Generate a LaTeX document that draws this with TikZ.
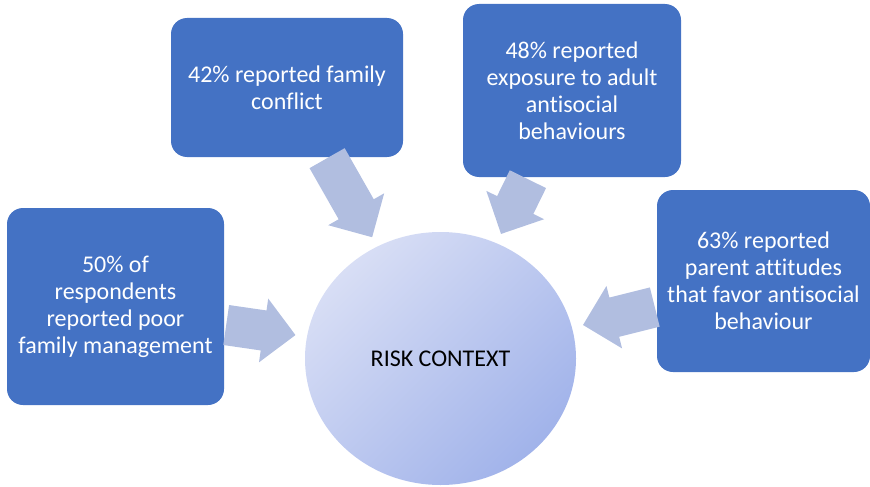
\documentclass[tikz,border=0pt]{standalone}
\usepackage{fontspec}
\setmainfont{Carlito}[Ligatures=NoCommon]
\usetikzlibrary{shapes.geometric,shapes.arrows}
\definecolor{boxblue}{HTML}{4472C4}
\definecolor{arrowblue}{HTML}{B1BEE0}
\definecolor{ringlight}{HTML}{D8DEF5}
\definecolor{ringdark}{HTML}{A1B3EA}
\begin{document}
\begin{tikzpicture}[x=1pt,y=-1pt,
  riskbox/.style={rectangle,rounded corners=16pt,fill=boxblue,text=white,align=center,inner sep=0pt,font=\fontsize{24}{27}\selectfont},
  riskarrow/.style={pos=0,anchor=tail,sloped,allow upside down,single arrow,fill=arrowblue,inner sep=0pt,text width=0pt,text height=20pt,text depth=20pt,single arrow head extend=12pt,single arrow tip angle=90,minimum height=#1}]
\useasboundingbox (0,0) rectangle (870,487);
\node [ellipse,minimum width=271pt,minimum height=253pt,top color=ringlight,bottom color=ringdark,shading angle=45,font=\fontsize{24}{27}\selectfont] (risk) at (440.5,358.5) {RISK CONTEXT};
\node [riskbox,minimum width=217pt,minimum height=197pt] (manage) at (115.5,306.5) {50\% of\\respondents\\reported poor\\family management};
\node [riskbox,minimum width=232pt,minimum height=139pt] (conflict) at (287,87.5) {42\% reported family\\conflict};
\node [riskbox,minimum width=218pt,minimum height=173pt] (exposure) at (572,90.5) {48\% reported\\exposure to adult\\antisocial\\behaviours};
\node [riskbox,minimum width=213pt,minimum height=182pt] (attitude) at (763.5,281) {63\% reported\\parent attitudes\\that favor antisocial\\behaviour};
\coordinate (manage-out) at (226,325);
\coordinate (manage-in) at (295,335);
\coordinate (conflict-out) at (327,158);
\coordinate (conflict-in) at (372,237);
\coordinate (exposure-out) at (528,179);
\coordinate (exposure-in) at (501,234);
\coordinate (attitude-out) at (655,307);
\coordinate (attitude-in) at (583,325);
\path (manage-out) -- (manage-in) node [riskarrow=70pt] (manage-arrow) {};
\path (conflict-out) -- (conflict-in) node [riskarrow=91pt] (conflict-arrow) {};
\path (exposure-out) -- (exposure-in) node [riskarrow=61pt] (exposure-arrow) {};
\path (attitude-out) -- (attitude-in) node [riskarrow=74pt] (attitude-arrow) {};
\end{tikzpicture}
\end{document}
